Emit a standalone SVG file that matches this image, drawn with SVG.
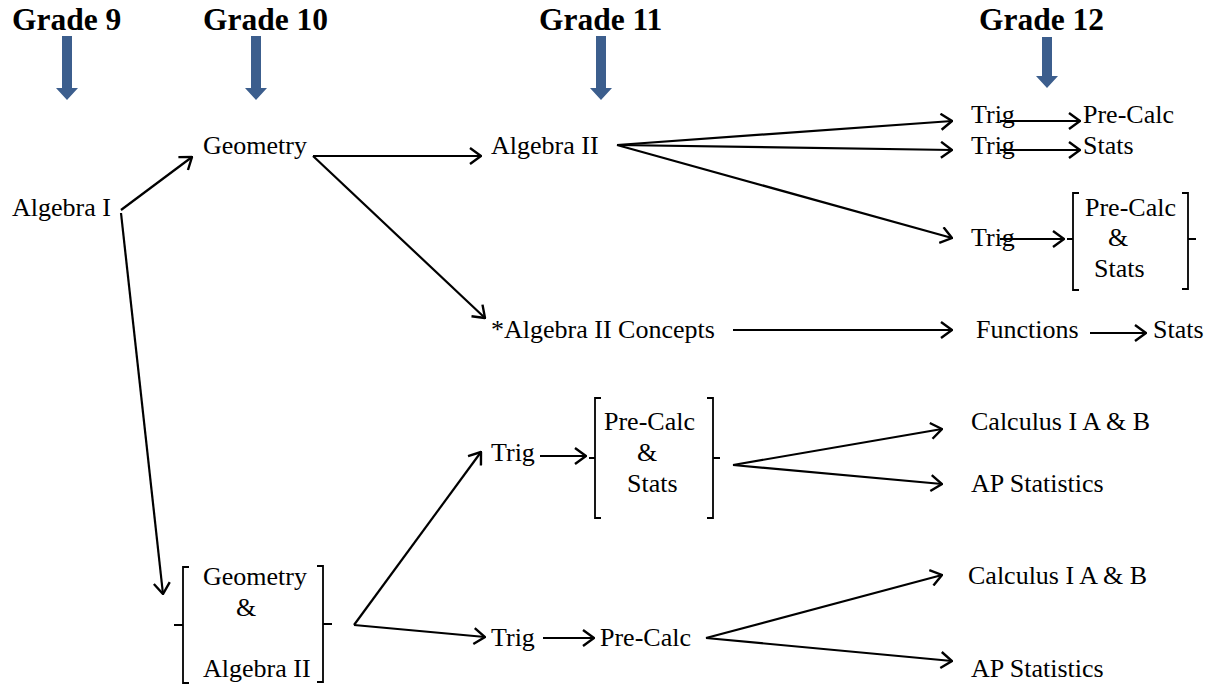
<svg xmlns="http://www.w3.org/2000/svg" width="1211" height="687" viewBox="0 0 1211 687">
<style>
.h{font-family:"Liberation Serif",serif;font-weight:bold;font-size:31.5px;fill:#000}
.t{font-family:"Liberation Serif",serif;font-size:26px;fill:#000}
.c line,.c polyline{stroke:#000;stroke-width:2.2;fill:none;marker-end:url(#a)}
.b{stroke:#000;stroke-width:1.8;fill:none}
.g{fill:#3C5E8D}
</style>
<defs>
<marker id="a" markerUnits="userSpaceOnUse" viewBox="0 0 13 18" refX="12" refY="9" markerWidth="13" markerHeight="18" orient="auto">
<path d="M1,1 L12,9 L1,17" fill="none" stroke="#000" stroke-width="2.4"/>
</marker>
<path id="ga" d="M-5,0 H5 V52 H11 L0,64 L-11,52 H-5 Z"/>
</defs>
<rect width="1211" height="687" fill="#fff"/>
<g id="headers">
<text class="h" x="12" y="30">Grade 9</text>
<use href="#ga" class="g" x="67" y="36"/>
<text class="h" x="203" y="30">Grade 10</text>
<use href="#ga" class="g" x="256" y="36"/>
<text class="h" x="539" y="30">Grade 11</text>
<use href="#ga" class="g" x="601" y="36"/>
<text class="h" x="979" y="30">Grade 12</text>
<path class="g" d="M1042,37 H1052 V76 H1058 L1047,88 L1036,76 H1042 Z"/>
</g>
<g id="alg1"><text class="t" x="12" y="216">Algebra I</text></g>
<g id="geom"><text class="t" x="203" y="154">Geometry</text></g>
<g id="alg2"><text class="t" x="491" y="154">Algebra II</text></g>
<g id="alg2c"><text class="t" x="491" y="338">*Algebra II Concepts</text></g>
<g id="trig1"><text class="t" x="971" y="123">Trig</text></g>
<g id="precalc1"><text class="t" x="1083" y="123">Pre-Calc</text></g>
<g id="trig2"><text class="t" x="971" y="154">Trig</text></g>
<g id="stats1"><text class="t" x="1083" y="154">Stats</text></g>
<g id="trig3"><text class="t" x="971" y="246">Trig</text></g>
<g id="pcs1">
<path class="b" d="M1079,193 H1073 V290 H1079 M1067,239 H1073"/>
<path class="b" d="M1182,193 H1188 V289 H1182 M1188,239 H1196"/>
<text class="t" x="1085" y="216">Pre-Calc</text>
<text class="t" x="1108" y="246">&amp;</text>
<text class="t" x="1094" y="277">Stats</text>
</g>
<g id="functions"><text class="t" x="976" y="338">Functions</text></g>
<g id="stats2"><text class="t" x="1153" y="338">Stats</text></g>
<g id="geoalg">
<path class="b" d="M189,567 H183 V683 H189 M174,625 H183"/>
<path class="b" d="M317,566 H323 V682 H317 M323,624 H332"/>
<text class="t" x="203" y="585">Geometry</text>
<text class="t" x="236" y="616">&amp;</text>
<text class="t" x="203" y="677">Algebra II</text>
</g>
<g id="trig4"><text class="t" x="491" y="461">Trig</text></g>
<g id="pcs2">
<path class="b" d="M601,398 H595 V518 H601 M589,458 H595"/>
<path class="b" d="M707,398 H713 V518 H707 M713,458 H720"/>
<text class="t" x="604" y="430">Pre-Calc</text>
<text class="t" x="637" y="461">&amp;</text>
<text class="t" x="627" y="492">Stats</text>
</g>
<g id="calc1"><text class="t" x="971" y="430">Calculus I A &amp; B</text></g>
<g id="aps1"><text class="t" x="971" y="492">AP Statistics</text></g>
<g id="trig5"><text class="t" x="491" y="646">Trig</text></g>
<g id="precalc2"><text class="t" x="600" y="646">Pre-Calc</text></g>
<g id="calc2"><text class="t" x="968" y="584">Calculus I A &amp; B</text></g>
<g id="aps2"><text class="t" x="971" y="677">AP Statistics</text></g>
<g id="connectors" class="c">
<line x1="121" y1="210" x2="192" y2="157"/>
<line x1="121" y1="213" x2="163" y2="594"/>
<line x1="313" y1="156" x2="481" y2="156"/>
<line x1="313" y1="156" x2="485" y2="318"/>
<line x1="617" y1="145" x2="952" y2="121"/>
<line x1="617" y1="145" x2="952" y2="150"/>
<line x1="617" y1="145" x2="952" y2="238"/>
<line x1="1000" y1="121" x2="1080" y2="121"/>
<line x1="1000" y1="150" x2="1080" y2="150"/>
<line x1="1000" y1="239" x2="1064" y2="239"/>
<line x1="733" y1="330" x2="952" y2="330"/>
<line x1="1090" y1="333" x2="1146" y2="333"/>
<line x1="354" y1="625" x2="481" y2="452"/>
<line x1="354" y1="625" x2="485" y2="637"/>
<line x1="540" y1="456" x2="586" y2="456"/>
<line x1="733" y1="465" x2="942" y2="429"/>
<line x1="733" y1="465" x2="942" y2="484"/>
<line x1="543" y1="638" x2="594" y2="638"/>
<line x1="706" y1="638" x2="942" y2="575"/>
<line x1="706" y1="638" x2="952" y2="661"/>
</g>
</svg>
